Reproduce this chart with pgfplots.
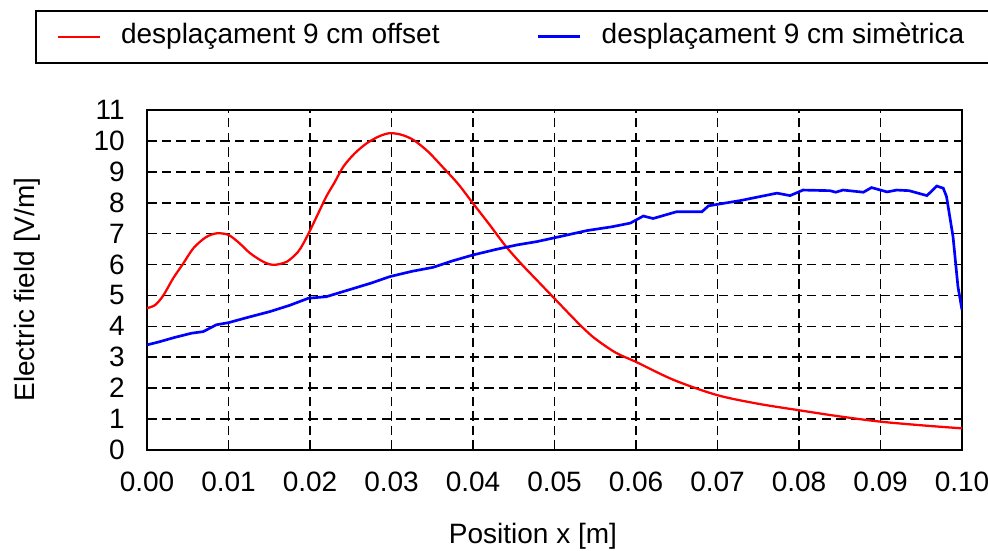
\documentclass[border=0pt]{standalone}
\usepackage{fontspec}
\setmainfont{Liberation Sans}
\usepackage{pgfplots}
\pgfplotsset{compat=1.18}

\newcommand{\chartfont}{\fontsize{21}{25}\selectfont}

\begin{document}
\begin{tikzpicture}
% page = 988x550 px at 0.75pt per px
\path[use as bounding box] (-110.25pt,-75pt) rectangle (630.75pt,337.5pt);
\begin{axis}[
    scale only axis,
    width=611.25pt, height=255pt,
    at={(0pt,0pt)}, anchor=south west,
    xmin=0, xmax=0.1, ymin=0, ymax=11,
    xtick={0,0.01,0.02,0.03,0.04,0.05,0.06,0.07,0.08,0.09,0.1},
    ytick={0,1,...,11},
    scaled x ticks=false,
    xticklabel style={/pgf/number format/.cd, fixed, fixed zerofill, precision=2},
    /pgf/number format/assume math mode=true,
    tick label style={font=\chartfont, inner sep=0pt},
    xticklabel shift=16.5pt, yticklabel shift=16.5pt,
    grid=major,
    major grid style={black, line width=1.2pt, dash pattern=on 7pt off 4pt},
    axis line style={line width=1.5pt},
    tick style={black, line width=1.2pt},
    major tick length=7.5pt,
    tick align=inside, tick pos=left,
    xlabel={Position x [m]}, ylabel={Electric field [V/m]},
    label style={font=\chartfont, inner sep=0pt},
    xlabel style={at={(axis description cs:0.4736,0)}, anchor=north, yshift=-55pt},
    ylabel style={at={(axis description cs:-0.1632,0.472)}, anchor=north},
    legend columns=2,
    legend image code/.code={\draw[#1] (0pt,0pt) -- (31.5pt,0pt);},
    legend style={at={(axis description cs:-0.13742,1.29412)}, anchor=north west,
        draw=black, line width=1.2pt, font=\chartfont,
        inner xsep=15.75pt, inner ysep=9.75pt, column sep=0pt,
        nodes={inner sep=0pt, text height=15pt, text depth=4.5pt},
        /tikz/every odd column/.append style={column sep=15pt}},
]
% offset
\addplot[red, line width=1.7pt, smooth, tension=0.5] coordinates {
    (0,4.59) (0.001,4.69) (0.002,5.0) (0.0032,5.55) (0.00446,6.04)
    (0.0057,6.53) (0.0072,6.88) (0.00855,7.01) (0.00998,6.96) (0.0113,6.7)
    (0.01264,6.37) (0.0142,6.1) (0.0155,5.99) (0.01714,6.09) (0.0185,6.4)
    (0.0192,6.69) (0.02,7.1) (0.021,7.65) (0.022,8.2) (0.023,8.65)
    (0.0241,9.17) (0.0255,9.6) (0.027,9.93) (0.0285,10.15) (0.0298,10.25)
    (0.0312,10.2) (0.0327,10.03) (0.0345,9.65) (0.0364,9.12) (0.0382,8.6)
    (0.04,7.98) (0.042,7.3) (0.044,6.6) (0.046,6.0) (0.048,5.45)
    (0.05,4.9) (0.052,4.35) (0.0535,3.95) (0.055,3.6) (0.0575,3.15)
    (0.06,2.85) (0.0646,2.27) (0.0699,1.78) (0.0749,1.5) (0.0799,1.29)
    (0.0849,1.09) (0.0899,0.92) (0.095,0.8) (0.1,0.70)
};
\addlegendentry{\makebox[312pt][l]{desplaçament 9 cm offset}}
% symmetric
\addplot[blue, line width=2pt] coordinates {
    (0,3.40) (0.0015,3.5) (0.0035,3.65) (0.0055,3.78) (0.0069,3.83)
    (0.0085,4.05) (0.01,4.12) (0.0125,4.3) (0.0151,4.48) (0.0175,4.68)
    (0.0198,4.91) (0.022,4.96) (0.025,5.2) (0.0275,5.4) (0.0298,5.61)
    (0.0325,5.78) (0.0351,5.91) (0.0375,6.12) (0.04,6.31) (0.043,6.5)
    (0.0455,6.64) (0.0478,6.74) (0.0511,6.93) (0.054,7.1) (0.057,7.22)
    (0.0593,7.34) (0.0609,7.57) (0.0621,7.49) (0.065,7.71) (0.0681,7.71)
    (0.0689,7.90) (0.0728,8.07) (0.0773,8.31) (0.0789,8.23) (0.0805,8.41)
    (0.0838,8.39) (0.0845,8.34) (0.0854,8.41) (0.0879,8.34) (0.0889,8.49)
    (0.0908,8.35) (0.092,8.41) (0.0935,8.39) (0.0957,8.23) (0.0969,8.54)
    (0.0977,8.47) (0.0981,8.20) (0.0989,6.90) (0.0995,5.29) (0.1,4.53)
};
\addlegendentry{\makebox[300pt][l]{desplaçament 9 cm simètrica}}
\end{axis}
\end{tikzpicture}
\end{document}
